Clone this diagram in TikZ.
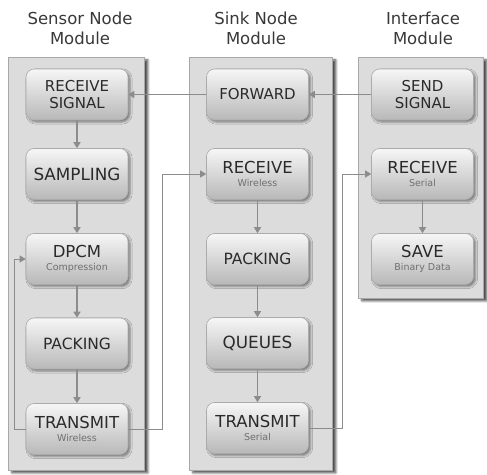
\documentclass[tikz,border=0pt]{standalone}
\usepackage{fontspec}
\setmainfont{DejaVu Sans}
\usetikzlibrary{arrows.meta,shadows,shadows.blur}
\definecolor{panelfill}{HTML}{DCDCDC}
\definecolor{panelborder}{HTML}{A8A8A8}
\definecolor{boxtop}{HTML}{F6F6F6}
\definecolor{boxbot}{HTML}{B8B8B8}
\definecolor{boxborder}{HTML}{ABABAB}
\definecolor{boxtext}{HTML}{2A2A2A}
\definecolor{subtext}{HTML}{707070}
\definecolor{titletext}{HTML}{383838}
\definecolor{arrowgray}{HTML}{8C8C8C}
\newcommand{\subl}[1]{{\fontsize{9.5}{13}\selectfont\color{subtext}#1}}
\begin{document}
\begin{tikzpicture}[x=1pt,y=-1pt,
  panel/.style={draw=panelborder, fill=panelfill, line width=0.8pt, anchor=north west, inner sep=0pt,
    blur shadow={shadow xshift=3.5pt, shadow yshift=-2.5pt, shadow blur steps=6, shadow blur extra rounding=0pt, shadow opacity=70}},
  box/.style={draw=boxborder, line width=0.6pt, rounded corners=8pt, top color=boxtop, bottom color=boxbot,
    minimum width=102pt, minimum height=51pt, inner sep=0pt, align=center, text=boxtext,
    blur shadow={shadow xshift=2pt, shadow yshift=-2pt, shadow blur steps=4, shadow opacity=45}},
  twoline/.style={box, font=\fontsize{15}{16.5}\selectfont},
  bigone/.style={box, font=\fontsize{16.8}{20}\selectfont},
  midone/.style={box, font=\fontsize{15.5}{20}\selectfont},
  withsub/.style={box, font=\fontsize{16.5}{13}\selectfont},
  title/.style={align=center, text=titletext, font=\fontsize{16.5}{20}\selectfont, inner sep=0pt},
  flow/.style={draw=arrowgray, line width=1.3pt, -{Triangle[width=7pt,length=6pt]}},
  link/.style={draw=arrowgray, line width=0.9pt, -{Triangle[width=7pt,length=6pt]}}
]
\useasboundingbox (0,0) rectangle (487,474);

% titles
\node[title] (t1) at (80,28) {Sensor Node\\Module};
\node[title] (t2) at (256,28) {Sink Node\\Module};
\node[title] (t3) at (423,28) {Interface\\Module};

% panels
\node[panel, minimum width=136pt, minimum height=413pt] (p1) at (8,57) {};
\node[panel, minimum width=143pt, minimum height=413pt] (p2) at (189,57) {};
\node[panel, minimum width=125pt, minimum height=241pt] (p3) at (358,57) {};

% sensor node column
\node[twoline] (rs) at (77,94.5) {RECEIVE\\SIGNAL};
\node[bigone] (samp) at (77,174) {SAMPLING};
\node[withsub] (dpcm) at (77,259) {DPCM\\\subl{Compression}};
\node[midone] (pack1) at (77,343.5) {PACKING};
\node[withsub] (tw) at (77,429) {TRANSMIT\\\subl{Wireless}};

% sink node column
\node[twoline] (fw) at (257.5,94.5) {FORWARD};
\node[withsub] (rw) at (257.5,174) {RECEIVE\\\subl{Wireless}};
\node[midone] (pack2) at (257.5,259) {PACKING};
\node[bigone] (queue) at (257.5,343) {QUEUES};
\node[withsub] (ts) at (257.5,428) {TRANSMIT\\\subl{Serial}};

% interface column
\node[twoline] (ss) at (422.5,94.5) {SEND\\SIGNAL};
\node[withsub] (rser) at (422.5,174) {RECEIVE\\\subl{Serial}};
\node[withsub] (save) at (422.5,259) {SAVE\\\subl{Binary Data}};

% vertical flows
\draw[flow] (rs) -- (samp);
\draw[flow] (samp) -- (dpcm);
\draw[flow] (dpcm) -- (pack1);
\draw[flow] (pack1) -- (tw);
\draw[flow] (rw) -- (pack2);
\draw[flow] (pack2) -- (queue);
\draw[flow] (queue) -- (ts);
\draw[flow] (rser) -- (save);

% horizontal flows
\draw[flow] (fw.west) -- (rs.east);
\draw[flow] (ss.west) -- (fw.east);

% routed links
\coordinate (c1) at (162,429);
\coordinate (c2) at (14,429);
\coordinate (c3) at (342,428);
\draw[link] (tw.east) -- (c1) |- (rw.west);
\draw[link] (tw.west) -- (c2) |- (dpcm.west);
\draw[link] (ts.east) -- (c3) |- (rser.west);
\end{tikzpicture}
\end{document}
